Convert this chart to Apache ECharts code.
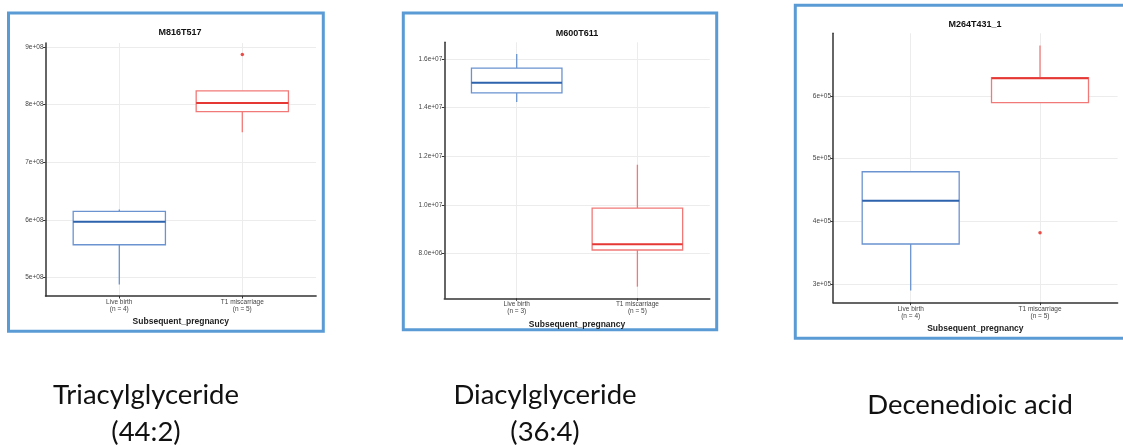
<!DOCTYPE html>
<html>
<head>
<meta charset="utf-8">
<script src="https://cdn.jsdelivr.net/npm/echarts@6/dist/echarts.min.js"></script>
<style>
  html, body { margin: 0; padding: 0; background: #fff; }
  #chart { width: 1123px; height: 445px; }
</style>
</head>
<body>
<div id="chart"></div>
<script>
// Groups compared in every panel
const categories = ['Live birth', 'T1 miscarriage'];

// Feature names shown above each panel
const featureIds = ['M816T517', 'M600T611', 'M264T431_1'];
// Compound names written under each panel
const compoundNames = [['Triacylglyceride', '(44:2)'], ['Diacylglyceride', '(36:4)'], ['Decenedioic acid']];

// Group sizes per panel: [live birth, T1 miscarriage]
const groupSizes = [[4, 5], [3, 5], [4, 5]];

// Box statistics per panel and group: [lower whisker, Q1, median, Q3, upper whisker]
const boxStatsTAG = [[4.88e8, 5.57e8, 5.97e8, 6.148e8, 6.18e8], [7.52e8, 7.88e8, 8.03e8, 8.24e8, 8.24e8]];
const boxStatsDAG = [[1.4235e7, 1.461e7, 1.5025e7, 1.563e7, 1.621e7], [6.63e6, 8.14e6, 8.38e6, 9.86e6, 1.165e7]];
const boxStatsDDA = [[2.90e5, 3.64e5, 4.33e5, 4.79e5, 4.80e5], [5.89e5, 5.89e5, 6.28e5, 6.29e5, 6.80e5]];

// Outlying points per panel: [group position, value]
const outliersTAG = [[2, 8.87e8]];
const outliersDAG = [];
const outliersDDA = [[2, 3.82e5]];

// Y-axis tick values per panel
const yTicksTAG = [5e8, 6e8, 7e8, 8e8, 9e8];
const yTicksDAG = [8e6, 1e7, 1.2e7, 1.4e7, 1.6e7];
const yTicksDDA = [3e5, 4e5, 5e5, 6e5];

const boxStats = [boxStatsTAG, boxStatsDAG, boxStatsDDA];
const outliers = [outliersTAG, outliersDAG, outliersDDA];
const yTicks = [yTicksTAG, yTicksDAG, yTicksDDA];
const yDigits = [0, 1, 0];

// Layout of the three panels (pixels)
const panels = [
  { frame: [8.5, 13, 314.8, 318.3], grid: { left: 45.5, top: 43, width: 270.6, height: 253 }, titleAt: [180, 33], nameAt: [146, 395] },
  { frame: [403.3, 13, 313.4, 316.7], grid: { left: 444.3, top: 42.3, width: 265.5, height: 256 }, titleAt: [577, 34], nameAt: [545, 395] },
  { frame: [795.3, 5.3, 340, 333], grid: { left: 833.1, top: 33.3, width: 284.5, height: 269.4 }, titleAt: [975, 25], nameAt: [970, 405] }
];

const boxColors = [
  { box: '#6b93cf', mid: '#2d62ad' },
  { box: '#f17a78', mid: '#e53834' }
];

// ggplot-style scientific labels, e.g. 9e+08, 1.6e+07
function sciLabel(v, digits) {
  const parts = v.toExponential(digits).split('e');
  const exp = parseInt(parts[1], 10);
  const sign = exp < 0 ? '-' : '+';
  const mag = String(Math.abs(exp)).padStart(2, '0');
  return parts[0] + 'e' + sign + mag;
}

// y range padded 5% beyond the data, like ggplot's default expansion
function yRange(i) {
  let lo = Infinity, hi = -Infinity;
  boxStats[i].forEach(s => { lo = Math.min(lo, s[0]); hi = Math.max(hi, s[4]); });
  outliers[i].forEach(p => { lo = Math.min(lo, p[1]); hi = Math.max(hi, p[1]); });
  const pad = (hi - lo) * 0.05;
  return [lo - pad, hi + pad];
}

function renderBox(params, api) {
  const x = api.value(0);
  const lo = api.value(1), q1 = api.value(2), med = api.value(3), q3 = api.value(4), hi = api.value(5);
  const c = boxColors[api.value(6)];
  const hw = 0.375;
  const tl = api.coord([x - hw, q3]);
  const br = api.coord([x + hw, q1]);
  const pHi = api.coord([x, hi]), pQ3 = api.coord([x, q3]);
  const pQ1 = api.coord([x, q1]), pLo = api.coord([x, lo]);
  const mL = api.coord([x - hw, med]), mR = api.coord([x + hw, med]);
  return {
    type: 'group',
    children: [
      { type: 'line', shape: { x1: pHi[0], y1: pHi[1], x2: pQ3[0], y2: pQ3[1] }, style: { stroke: c.box, lineWidth: 1.3 } },
      { type: 'line', shape: { x1: pQ1[0], y1: pQ1[1], x2: pLo[0], y2: pLo[1] }, style: { stroke: c.box, lineWidth: 1.3 } },
      { type: 'rect', shape: { x: tl[0], y: tl[1], width: br[0] - tl[0], height: br[1] - tl[1] }, style: { fill: '#ffffff', stroke: c.box, lineWidth: 1.3 } },
      { type: 'line', shape: { x1: mL[0], y1: mL[1], x2: mR[0], y2: mR[1] }, style: { stroke: c.mid, lineWidth: 2 } }
    ]
  };
}

const grids = [], xAxes = [], yAxes = [], series = [], graphics = [];
const labelFont = '"Liberation Sans", Arial, sans-serif';

panels.forEach((p, i) => {
  grids.push(Object.assign({}, p.grid));
  const [yMin, yMax] = yRange(i);

  xAxes.push({
    type: 'value', gridIndex: i, min: 0.4, max: 2.6,
    name: 'Subsequent_pregnancy', nameLocation: 'middle', nameGap: 21,
    nameTextStyle: { fontFamily: labelFont, fontSize: 8.5, fontWeight: 'bold', color: '#222' },
    axisLine: { show: true, onZero: false, lineStyle: { color: '#333', width: 1.5 } },
    axisTick: { show: true, length: 2.5, customValues: [1, 2], lineStyle: { color: '#333', width: 1 } },
    axisLabel: {
      customValues: [1, 2], margin: 3, fontFamily: labelFont, fontSize: 6.5, lineHeight: 6.8, color: '#444',
      formatter: v => categories[v - 1] + '\n(n = ' + groupSizes[i][v - 1] + ')'
    },
    splitLine: { show: true, lineStyle: { color: '#ececec', width: 1 } }
  });

  yAxes.push({
    type: 'value', gridIndex: i, min: yMin, max: yMax,
    axisLine: { show: true, onZero: false, lineStyle: { color: '#333', width: 1.5 } },
    axisTick: { show: true, length: 2.5, customValues: yTicks[i], lineStyle: { color: '#333', width: 1 } },
    axisLabel: {
      customValues: yTicks[i], margin: 2, fontFamily: labelFont, fontSize: 6.5, color: '#444',
      formatter: v => sciLabel(v, yDigits[i])
    },
    splitLine: { show: true, lineStyle: { color: '#ececec', width: 1 } }
  });

  series.push({
    type: 'custom', xAxisIndex: i, yAxisIndex: i,
    renderItem: renderBox,
    encode: { x: 0, y: [1, 2, 3, 4, 5] },
    data: boxStats[i].map((s, g) => [g + 1].concat(s, [g])),
    silent: true, z: 3
  });

  series.push({
    type: 'scatter', xAxisIndex: i, yAxisIndex: i,
    data: outliers[i],
    symbol: 'circle', symbolSize: 3.5,
    itemStyle: { color: '#e8241c' },
    silent: true, z: 4
  });

  // Panel frame
  graphics.push({
    type: 'rect', z: -10,
    shape: { x: p.frame[0], y: p.frame[1], width: p.frame[2], height: p.frame[3] },
    style: { fill: 'none', stroke: '#5b9bd5', lineWidth: 3 }
  });
  // Panel title
  graphics.push({
    type: 'text', x: p.titleAt[0], y: p.titleAt[1],
    style: {
      text: featureIds[i], font: 'bold 9px ' + labelFont, fill: '#111',
      align: 'center', verticalAlign: 'middle', textAlign: 'center', textVerticalAlign: 'middle'
    }
  });
  // Compound name under the panel (first line centred on nameAt)
  graphics.push({
    type: 'text', x: p.nameAt[0], y: p.nameAt[1] - 18.5,
    style: {
      text: compoundNames[i].join('\n'), font: '27.5px Lato, "Open Sans", sans-serif', fill: '#111',
      lineHeight: 37, align: 'center', verticalAlign: 'top', textAlign: 'center', textVerticalAlign: 'top'
    }
  });
});

const chart = echarts.init(document.getElementById('chart'), null, { renderer: 'canvas' });
chart.setOption({
  animation: false,
  backgroundColor: '#ffffff',
  grid: grids,
  xAxis: xAxes,
  yAxis: yAxes,
  series: series,
  graphic: graphics
});
</script>
</body>
</html>
